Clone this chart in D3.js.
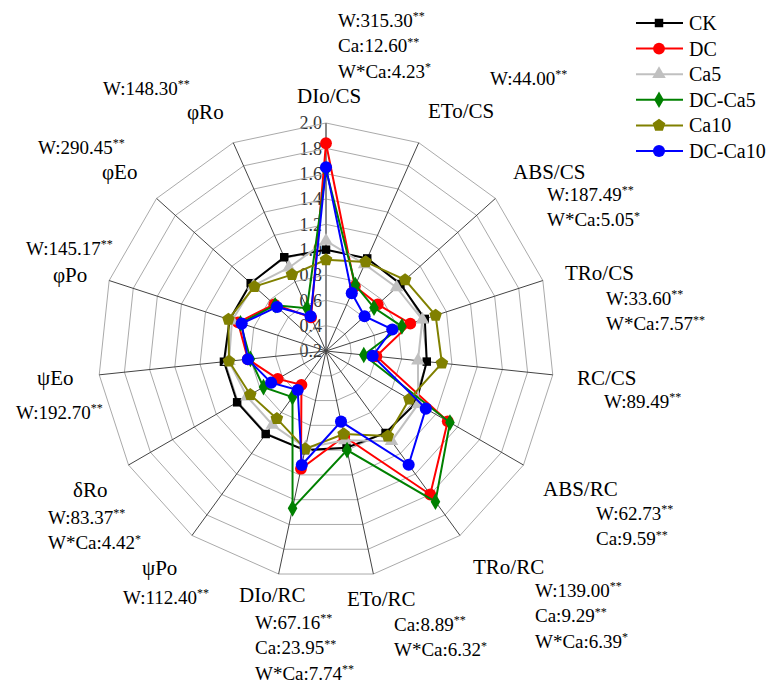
<!DOCTYPE html>
<meta charset="utf-8">
<head>
  <title>Radar</title>
</head>

<style>
body {
  margin: 0;
  background: #fff;
}
</style>

<body>
  <div id="content">
    <svg width="771" height="684" font-family="'Liberation Serif', 'Times New Roman', 'DejaVu Serif', serif"></svg>
  </div>

  <script src="https://cdnjs.cloudflare.com/ajax/libs/d3/7.8.5/d3.min.js"></script>

  <script>
var axes = ['DIo/CS', 'ETo/CS', 'ABS/CS', 'TRo/CS', 'RC/CS', 'ABS/RC', 'TRo/RC',
  'ETo/RC', 'DIo/RC', 'ψPo', 'δRo', 'ψEo', 'φPo', 'φEo', 'φRo'];

var seriesNames = ['CK', 'DC', 'Ca5', 'DC-Ca5', 'Ca10', 'DC-Ca10'];

var ck     = [1.00, 1.00, 0.99, 1.02, 1.00, 1.02, 1.00, 0.98, 1.00, 1.01, 1.01, 1.01, 1.00, 1.00, 1.01];
var dc     = [1.84, 0.76, 0.75, 0.90, 0.60, 1.31, 1.60, 0.89, 1.15, 0.53, 0.64, 0.82, 0.93, 0.75, 0.49];
var ca5    = [1.07, 0.95, 0.95, 1.00, 0.93, 1.04, 1.08, 0.92, 0.98, 0.92, 0.92, 0.97, 0.98, 0.97, 0.92];
var dcCa5  = [1.63, 0.77, 0.71, 0.83, 0.50, 1.33, 1.67, 1.00, 1.47, 0.65, 0.77, 0.80, 0.91, 0.74, 0.57];
var ca10   = [0.92, 0.97, 1.04, 1.11, 1.12, 0.96, 1.03, 0.87, 0.99, 0.86, 0.89, 0.97, 1.01, 0.96, 0.86];
var dcCa10 = [1.65, 0.70, 0.61, 0.75, 0.57, 1.11, 1.31, 0.77, 1.12, 0.58, 0.70, 0.82, 0.90, 0.72, 0.50];

var ticks = [0.2, 0.4, 0.6, 0.8, 1.0, 1.2, 1.4, 1.6, 1.8, 2.0];

// two-way ANOVA F values per axis: [factor, F, stars]
var stats = [
  [['W', '315.30', '**'], ['Ca', '12.60', '**'], ['W*Ca', '4.23', '*']],
  [['W', '44.00', '**']],
  [['W', '187.49', '**'], ['W*Ca', '5.05', '*']],
  [['W', '33.60', '**'], ['W*Ca', '7.57', '**']],
  [['W', '89.49', '**']],
  [['W', '62.73', '**'], ['Ca', '9.59', '**']],
  [['W', '139.00', '**'], ['Ca', '9.29', '**'], ['W*Ca', '6.39', '*']],
  [['Ca', '8.89', '**'], ['W*Ca', '6.32', '*']],
  [['W', '67.16', '**'], ['Ca', '23.95', '**'], ['W*Ca', '7.74', '**']],
  [['W', '112.40', '**']],
  [['W', '83.37', '**'], ['W*Ca', '4.42', '*']],
  [['W', '192.70', '**']],
  [['W', '145.17', '**']],
  [['W', '290.45', '**']],
  [['W', '148.30', '**']]
];

var series = [ck, dc, ca5, dcCa5, ca10, dcCa10];

// label placement: name x,y and stats x,y (left edge, text middle)
var labelPos = [
  {nx: 297, ny: 96,  sx: 338, sy: 20},
  {nx: 428, ny: 111, sx: 490, sy: 78},
  {nx: 513, ny: 172, sx: 547, sy: 194},
  {nx: 565, ny: 273, sx: 606, sy: 298},
  {nx: 577, ny: 378, sx: 604, sy: 401},
  {nx: 543, ny: 489, sx: 596, sy: 513},
  {nx: 473, ny: 567, sx: 535, sy: 590},
  {nx: 347, ny: 599, sx: 394, sy: 624},
  {nx: 239, ny: 595, sx: 255, sy: 622},
  {nx: 142, ny: 568, sx: 123, sy: 597},
  {nx: 73,  ny: 490, sx: 48,  sy: 517},
  {nx: 37,  ny: 378, sx: 16,  sy: 412},
  {nx: 53,  ny: 275, sx: 26,  sy: 248},
  {nx: 102, ny: 172, sx: 38,  sy: 147},
  {nx: 187, ny: 112, sx: 103, sy: 88}
];

var colors = ['#000000', '#ff0000', '#c0c0c0', '#008000', '#808000', '#0000ff'];

var pentagon = {
  draw: function(context, size) {
    var r = Math.sqrt(size / 2.378);
    for (var i = 0; i < 5; i++) {
      var a = -Math.PI / 2 + i * 2 * Math.PI / 5;
      if (i === 0) context.moveTo(r * Math.cos(a), r * Math.sin(a));
      else context.lineTo(r * Math.cos(a), r * Math.sin(a));
    }
    context.closePath();
  }
};
var symbols = [
  d3.symbol().type(d3.symbolSquare).size(72),
  d3.symbol().type(d3.symbolCircle).size(110),
  d3.symbol().type(d3.symbolTriangle).size(80),
  d3.symbol().type(d3.symbolDiamond).size(80),
  d3.symbol().type(pentagon).size(105),
  d3.symbol().type(d3.symbolCircle).size(115)
];

var svg = d3.select('#content svg');
var cx = 326, cy = 351;

var r = d3.scaleLinear().domain([0.2, 2.0]).range([0, 228]);
var angle = d3.scalePoint().domain(d3.range(axes.length)).range([0, 2 * Math.PI * (axes.length - 1) / axes.length]);

function pt(i, v) {
  var a = angle(i);
  return [cx + r(v) * Math.sin(a), cy - r(v) * Math.cos(a)];
}

var g = svg.append('g');

// tick labels
g.selectAll('.tick')
  .data(ticks)
  .enter().append('text')
  .attr('x', cx - 4)
  .attr('y', function(d) { return cy - r(d); })
  .attr('dy', '0.35em')
  .attr('text-anchor', 'end')
  .attr('font-size', 18)
  .attr('fill', '#333')
  .text(function(d) { return d.toFixed(1); });

// rings
var ring = d3.line().curve(d3.curveLinearClosed);
g.selectAll('.ring')
  .data(ticks.slice(1))
  .enter().append('path')
  .attr('d', function(t) { return ring(axes.map(function(a, i) { return pt(i, t); })); })
  .attr('fill', 'none')
  .attr('stroke', '#aaa')
  .attr('stroke-width', 1);

// spokes
g.selectAll('.spoke')
  .data(axes)
  .enter().append('line')
  .attr('x1', cx).attr('y1', cy)
  .attr('x2', function(d, i) { return pt(i, 2.0)[0]; })
  .attr('y2', function(d, i) { return pt(i, 2.0)[1]; })
  .attr('stroke', function(d, i) { return i === 0 ? '#888' : '#444'; })
  .attr('stroke-width', function(d, i) { return i === 0 ? 2 : 1; });

// series
series.forEach(function(vals, s) {
  var pts = vals.map(function(v, i) { return pt(i, v); });
  g.append('path')
    .attr('d', ring(pts))
    .attr('fill', 'none')
    .attr('stroke', colors[s])
    .attr('stroke-width', 2);
  g.selectAll('.m' + s)
    .data(pts)
    .enter().append('path')
    .attr('transform', function(d) { return 'translate(' + d[0] + ',' + d[1] + ')'; })
    .attr('d', symbols[s]())
    .attr('fill', colors[s]);
});

// axis names and stats
var fs = 19, lh = 25.5;
axes.forEach(function(name, i) {
  var p = labelPos[i];
  svg.append('text')
    .attr('x', p.nx).attr('y', p.ny)
    .attr('dy', '0.35em')
    .attr('font-size', 21)
    .attr('fill', '#000')
    .text(name);
  stats[i].forEach(function(st, k) {
    var t = svg.append('text')
      .attr('x', p.sx).attr('y', p.sy + k * lh)
      .attr('dy', '0.35em')
      .attr('font-size', fs)
      .attr('fill', '#000');
    t.append('tspan').text(st[0] + ':' + st[1]);
    t.append('tspan')
      .attr('font-size', 12)
      .attr('dy', '-0.55em')
      .text(st[2]);
  });
});

// legend
var leg = svg.append('g');
seriesNames.forEach(function(n, s) {
  var y = 23 + s * 25.6;
  leg.append('line')
    .attr('x1', 636).attr('x2', 683)
    .attr('y1', y).attr('y2', y)
    .attr('stroke', colors[s])
    .attr('stroke-width', 2);
  leg.append('path')
    .attr('transform', 'translate(659,' + y + ')')
    .attr('d', symbols[s]())
    .attr('fill', colors[s]);
  leg.append('text')
    .attr('x', 689).attr('y', y)
    .attr('dy', '0.35em')
    .attr('font-size', 20)
    .text(n);
});
  </script>
</body>
</html>
